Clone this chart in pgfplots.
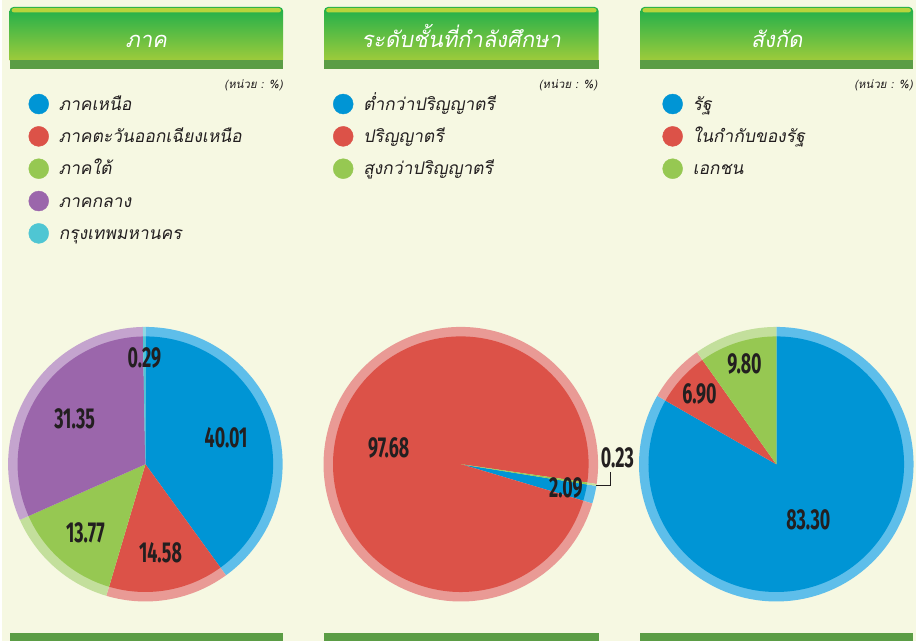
\documentclass[border=0pt]{standalone}
\usepackage{fontspec}
\usepackage{pgfplots}
\pgfplotsset{compat=1.18}
\newfontfamily\thai[Script=Thai,FakeSlant=0.18]{Loma}
\newfontfamily\numfont[FakeStretch=0.62]{Fira Sans}

\definecolor{bg}{HTML}{F6F8E2}
\definecolor{cblue}{HTML}{0095D5}
\definecolor{cblueL}{HTML}{5EBEEA}
\definecolor{cred}{HTML}{DC5248}
\definecolor{credL}{HTML}{E99A95}
\definecolor{cgreen}{HTML}{96C852}
\definecolor{cgreenL}{HTML}{C3DF9C}
\definecolor{cpurple}{HTML}{9B66AB}
\definecolor{cpurpleL}{HTML}{C4A4CE}
\definecolor{ccyan}{HTML}{4FC6D3}
\definecolor{ccyanL}{HTML}{8ED9E2}
\definecolor{hdrA}{HTML}{1EAF4B}
\definecolor{hdrB}{HTML}{A6CD3A}
\definecolor{hdrHi}{HTML}{B8D43C}
\definecolor{hdrDark}{HTML}{5B9D45}
\definecolor{ink}{HTML}{231F20}

\tikzset{
  numlabel/.style={font=\numfont\bfseries\fontsize{29}{29}\selectfont, text=ink, inner sep=0pt},
  hdrtext/.style={font=\thai\fontsize{22}{22}\selectfont, text=white, anchor=base, inner sep=0pt},
  unittext/.style={font=\thai\fontsize{11.5}{11.5}\selectfont, text=ink, anchor=base east, inner sep=0pt},
}

\pgfplotsset{
  panel/.style={hide axis, scale only axis, width=916bp, height=642bp,
    xmin=0, xmax=916, ymin=0, ymax=642, y dir=reverse, clip=false,
    at={(0bp,0bp)}, anchor=north west,
    legend image code/.code={\fill[##1] (10bp,6bp) circle[radius=10bp];},
    legend style={draw=none, fill=none, inner sep=0pt, outer sep=0pt,
      row sep=12bp, column sep=10bp, anchor=north west,
      font=\thai\fontsize{17.5}{17.5}\selectfont, text=ink,
      cells={anchor=base west},
      nodes={inner sep=0pt, text height=12bp, text depth=4bp}},
  },
}

% pie: centre x, centre y, start angle, list value/colour/label radius (0 = leader line)
\newcommand\drawpie[4]{%
  \gdef\pieS{#3}%
  \gdef\pielabels{}%
  \foreach \v/\col/\lr in {#4} {%
    \pgfmathsetmacro\pieE{\pieS-3.6*\v}%
    \pgfmathsetmacro\pieM{(\pieS+\pieE)/2}%
    \edef\temp{%
      \noexpand\fill[\col L] (axis cs:#1,#2) -- ++(\pieS:137.5bp) arc[start angle=\pieS, end angle=\pieE, radius=137.5bp] -- cycle;
      \noexpand\fill[\col] (axis cs:#1,#2) -- ++(\pieS:128bp) arc[start angle=\pieS, end angle=\pieE, radius=128bp] -- cycle;
    }%
    \temp
    \ifdim\lr pt>0pt
      \xdef\pielabels{\unexpanded\expandafter{\pielabels}%
        \noexpand\path (axis cs:#1,#2) ++(\pieM:\lr bp) node[numlabel] {\v};}%
    \else
      \xdef\pielabels{\unexpanded\expandafter{\pielabels}%
        \noexpand\draw[ink, line width=0.7bp] (axis cs:#1,#2) ++(\pieM:137.5bp) -- ++(14bp,0bp) -- ++(0bp,13bp) ++(-10bp,4bp) node[numlabel, anchor=south west] {\v};}%
    \fi
    \xdef\pieS{\pieE}%
  }%
  \pielabels
}

\begin{document}
\begin{tikzpicture}
\begin{scope}[x=1bp, y=-1bp]
  \fill[bg] (0,0) rectangle (916,642);
  \foreach \xa/\xb in {8/282, 323/598, 640/913} {
    \shade[top color=hdrA, bottom color=hdrB, rounded corners=4bp] (\xa,64) -- (\xa,7) -- (\xb,7) -- (\xb,64) -- cycle;
    \fill[hdrDark] (\xa,60) rectangle (\xb,69);
    \fill[hdrHi, rounded corners=2.5bp] (\xa+2,8) rectangle (\xb-2,12.5);
    \fill[hdrDark] (\xa,634) rectangle (\xb,642);
  }
  \node[hdrtext] at (145,48) {ภาค};
  \node[hdrtext] at (460.5,48) {ระดับชั้นที่กำลังศึกษา};
  \node[hdrtext] at (776.5,48) {สังกัด};
  \node[unittext] at (282,89) {(หน่วย : \%)};
  \node[unittext] at (597,89) {(หน่วย : \%)};
  \node[unittext] at (913,89) {(หน่วย : \%)};
\end{scope}

\begin{axis}[panel, legend style={at={(axis cs:27,94)}}]
  \drawpie{144}{465}{90}{40.01/cblue/85, 14.58/cred/90, 13.77/cgreen/91, 31.35/cpurple/84, 0.29/ccyan/106}
  \addlegendimage{cblue}\addlegendentry{ภาคเหนือ}
  \addlegendimage{cred}\addlegendentry{ภาคตะวันออกเฉียงเหนือ}
  \addlegendimage{cgreen}\addlegendentry{ภาคใต้}
  \addlegendimage{cpurple}\addlegendentry{ภาคกลาง}
  \addlegendimage{ccyan}\addlegendentry{กรุงเทพมหานคร}
\end{axis}

\begin{axis}[panel, legend style={at={(axis cs:332,94)}}]
  \drawpie{460}{465}{-9.1}{2.09/cblue/108, 97.68/cred/74, 0.23/cgreen/0}
  \addlegendimage{cblue}\addlegendentry{ต่ำกว่าปริญญาตรี}
  \addlegendimage{cred}\addlegendentry{ปริญญาตรี}
  \addlegendimage{cgreen}\addlegendentry{สูงกว่าปริญญาตรี}
\end{axis}

\begin{axis}[panel, legend style={at={(axis cs:662,94)}}]
  \drawpie{776}{465}{90}{83.30/cblue/64, 6.90/cred/104, 9.80/cgreen/105}
  \addlegendimage{cblue}\addlegendentry{รัฐ}
  \addlegendimage{cred}\addlegendentry{ในกำกับของรัฐ}
  \addlegendimage{cgreen}\addlegendentry{เอกชน}
\end{axis}
\end{tikzpicture}
\end{document}
